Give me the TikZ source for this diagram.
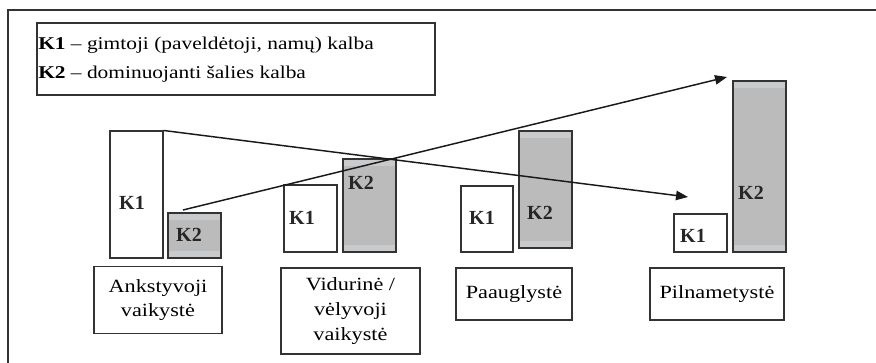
\documentclass[tikz,border=0pt]{standalone}
\usepackage{fontspec}
\setmainfont[FakeStretch=1.19]{Liberation Serif}
\newfontfamily\klblfont{Liberation Serif}
\usetikzlibrary{arrows.meta,positioning,fit}
\definecolor{barline}{HTML}{333333}
\definecolor{barfill}{HTML}{BBBBBB}
\definecolor{bandfill}{HTML}{C9CACB}
\tikzset{
  boxbase/.style={draw=barline,line width=0.8pt,inner sep=0pt},
  legendbox/.style={boxbase},
  agebox/.style={boxbase,align=center,font=\fontsize{14}{18.5}\selectfont},
  onebar/.style={boxbase,fill=white},
  twobar/.style={boxbase,fill=barfill,
    path picture={
      \fill[bandfill] (path picture bounding box.north west) rectangle ([yshift=-5pt]path picture bounding box.north east);
      \fill[bandfill] (path picture bounding box.south west) rectangle ([yshift=5pt]path picture bounding box.south east);
    }},
  klbl/.style={font=\klblfont\fontsize{15}{17}\selectfont\bfseries,text=black!85},
  legtxt/.style={font=\fontsize{13.5}{15}\selectfont,anchor=base west,inner sep=0pt},
  arr/.style={-{Triangle[length=9pt,width=7pt]},line width=1.1pt,black!90}
}
\begin{document}
\begin{tikzpicture}[x=0.75pt,y=-0.75pt]
  \useasboundingbox (0,0) rectangle (876,363);
  % Outer frame
  \draw[barline,line width=0.8pt] (8,363) -- (8,10) -- (876,10);

  % Legend
  \node[legendbox, fit={(37,23) (435,95)}] (legend) {};
  \node[legtxt] (leg1) at (38,50) {\textbf{K1} – gimtoji (paveldėtoji, namų) kalba};
  \node[legtxt] (leg2) at (38,79) {\textbf{K2} – dominuojanti šalies kalba};

  % Ankstyvoji vaikyste
  \node[onebar, fit={(110,131) (163,258)}] (a1) {};
  \node[twobar, fit={(168,213) (221,258)}] (a2) {};
  \node[klbl] (a1l) at (132,203) {K1};
  \node[klbl] (a2l) at (189,235) {K2};
  \node[agebox, minimum width=96pt, minimum height=50.25pt] (agea) at (158,300) {Ankstyvoji\\vaikystė};

  % Vidurine / velyvoji vaikyste
  \node[onebar, fit={(284,185) (337,252)}] (b1) {};
  \node[twobar, fit={(343,159) (396,252)}] (b2) {};
  \node[klbl] (b1l) at (302,218) {K1};
  \node[klbl] (b2l) at (361,183) {K2};
  \node[agebox, minimum width=104.25pt, minimum height=64.5pt] (ageb) at (350.5,311) {Vidurinė /\\vėlyvoji\\vaikystė};

  % Paauglyste
  \node[onebar, fit={(461,186) (513,252)}] (c1) {};
  \node[twobar, fit={(519,131) (572,248)}] (c2) {};
  \node[klbl] (c1l) at (482,218) {K1};
  \node[klbl] (c2l) at (540,213) {K2};
  \node[agebox, minimum width=87pt, minimum height=39pt] (agec) at (514,294) {Paauglystė};

  % Pilnametyste
  \node[onebar, fit={(674,214) (727,252)}] (d1) {};
  \node[twobar, fit={(733,81) (786,252)}] (d2) {};
  \node[klbl] (d1l) at (693,236) {K1};
  \node[klbl] (d2l) at (751,193) {K2};
  \node[agebox, minimum width=100.5pt, minimum height=39pt] (aged) at (717,294) {Pilnametystė};

  % Trends
  \coordinate (k1end) at (688,197);
  \coordinate (k2start) at (183,210);
  \coordinate (k2end) at (727,77);
  \draw[arr] (a1.north east) -- (k1end);
  \draw[arr] (k2start) -- (k2end);
\end{tikzpicture}
\end{document}
